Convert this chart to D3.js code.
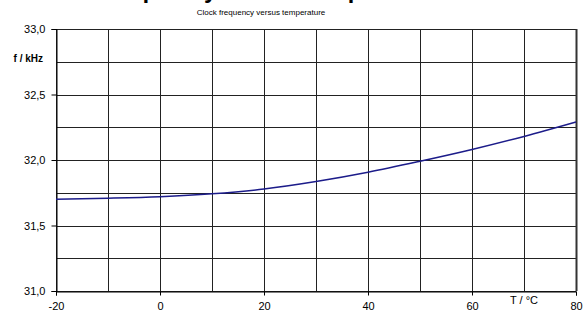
<!DOCTYPE html>
<html>
<head>
<meta charset="utf-8">
<script src="https://cdn.jsdelivr.net/npm/d3@7"></script>
<style>
  body { margin: 0; background: #fff; }
  text { font-family: "Liberation Sans", Arial, sans-serif; fill: #000; }
</style>
</head>
<body>
<svg id="canvas" width="588" height="318"></svg>
<script>
let temps = [-20, -10, 0, 10, 20, 30, 40, 50, 60, 70, 80]
let freqs = [31.700, 31.708, 31.720, 31.742, 31.778, 31.835, 31.906, 31.990, 32.080, 32.180, 32.290]

let xTicks = [-20, 0, 20, 40, 60, 80]
let yTicks = [31.0, 31.5, 32.0, 32.5, 33.0]
let yTickLabels = ['31,0', '31,5', '32,0', '32,5', '33,0']
let xGrid = d3.range(-20, 81, 10)
let yGrid = d3.range(31, 33.01, 0.25)

let canvas = d3.select('#canvas')

let x = d3.scaleLinear().domain([-20, 80]).range([56, 576])
let y = d3.scaleLinear().domain([31, 33]).range([291, 29])

// grid
canvas.selectAll('.vgrid')
      .data(xGrid)
      .enter()
      .append('line')
      .attr('x1', (d) => Math.round(x(d)) + 0.5)
      .attr('x2', (d) => Math.round(x(d)) + 0.5)
      .attr('y1', y(31))
      .attr('y2', y(33))
      .attr('stroke', '#222')
      .attr('stroke-width', 1)

canvas.selectAll('.hgrid')
      .data(yGrid)
      .enter()
      .append('line')
      .attr('x1', x(-20))
      .attr('x2', x(80))
      .attr('y1', (d) => Math.round(y(d)) + 0.5)
      .attr('y2', (d) => Math.round(y(d)) + 0.5)
      .attr('stroke', '#222')
      .attr('stroke-width', 1)

// axes
let yAxis = d3.axisLeft(y)
              .tickValues(yTicks)
              .tickFormat((d, i) => yTickLabels[i])
              .tickSize(5)
              .tickPadding(6)
let xAxis = d3.axisBottom(x)
              .tickValues(xTicks)
              .tickFormat((d) => String(d))
              .tickSize(4)
              .tickPadding(7)

let gy = canvas.append('g')
      .attr('transform', 'translate(' + (Math.round(x(-20)) + 0.5) + ',0)')
      .call(yAxis)
let gx = canvas.append('g')
      .attr('transform', 'translate(0,' + (Math.round(y(31)) + 0.5) + ')')
      .call(xAxis)

for (let g of [gx, gy]) {
    g.select('.domain').attr('stroke', '#000')
    g.selectAll('.tick line').attr('stroke', '#000')
    g.selectAll('.tick text').style('font-size', '11px').attr('fill', '#000')
}

// right border
canvas.append('line')
      .attr('x1', Math.round(x(80)) + 0.5)
      .attr('x2', Math.round(x(80)) + 0.5)
      .attr('y1', y(31))
      .attr('y2', y(33))
      .attr('stroke', '#333')
      .attr('stroke-width', 2)

// curve
let line = d3.line()
             .x((d, i) => x(temps[i]))
             .y((d) => y(d))
             .curve(d3.curveMonotoneX)

canvas.append('path')
      .datum(freqs)
      .attr('d', line)
      .attr('fill', 'none')
      .attr('stroke', '#1c1c8a')
      .attr('stroke-width', 1.5)

// labels (main title is cut off at the top, as in the source picture)
canvas.append('text')
      .attr('x', 270)
      .attr('y', -2)
      .attr('text-anchor', 'middle')
      .style('font-size', '23.5px')
      .style('font-weight', 'bold')
      .text('Frequency versus temperature')

canvas.append('text')
      .attr('x', 261)
      .attr('y', 15)
      .attr('text-anchor', 'middle')
      .style('font-size', '8px')
      .text('Clock frequency versus temperature')

canvas.append('text')
      .attr('x', 43)
      .attr('y', 62)
      .attr('text-anchor', 'end')
      .style('font-size', '10px')
      .style('font-weight', 'bold')
      .text('f / kHz')

canvas.append('text')
      .attr('x', x(70))
      .attr('y', 304)
      .attr('text-anchor', 'middle')
      .style('font-size', '11px')
      .text('T / °C')
</script>
</body>
</html>
